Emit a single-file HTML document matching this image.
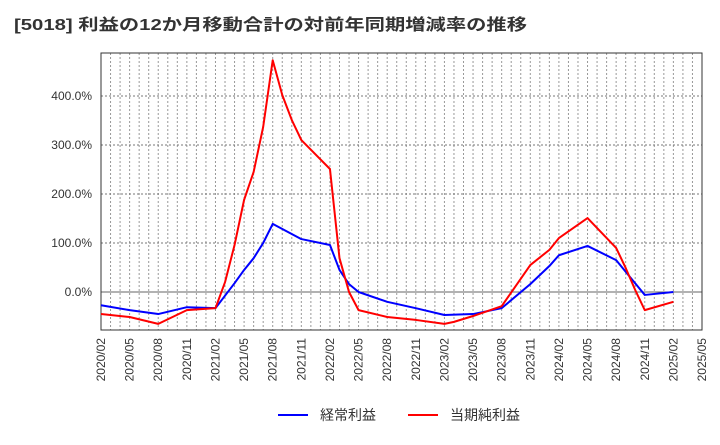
<!DOCTYPE html>
<html><head><meta charset="utf-8"><style>
body{margin:0;background:#fff;font-family:"Liberation Sans","Noto Sans CJK JP",sans-serif;}
</style></head><body>
<svg width="720" height="440" xmlns="http://www.w3.org/2000/svg" font-family="Liberation Sans, Noto Sans CJK JP, sans-serif">
<text x="14" y="30" font-size="16" font-weight="bold" fill="#333" textLength="513" lengthAdjust="spacingAndGlyphs">[5018]  利益の12か月移動合計の対前年同期増減率の推移</text>
<g id="grid"></g>
<g id="axes"></g>
<g id="series"></g>
<g>
<line x1="278" y1="415" x2="308" y2="415" stroke="#0000ff" stroke-width="2"/>
<text x="320" y="420" font-size="14" fill="#333">経常利益</text>
<line x1="408" y1="415" x2="438" y2="415" stroke="#ff0000" stroke-width="2"/>
<text x="450" y="420" font-size="14" fill="#333">当期純利益</text>
</g>
</svg>
<script>
const xLabels=["2020/02","2020/05","2020/08","2020/11","2021/02","2021/05","2021/08","2021/11","2022/02","2022/05","2022/08","2022/11","2023/02","2023/05","2023/08","2023/11","2024/02","2024/05","2024/08","2024/11","2025/02","2025/05"];
const yTicks=[0,100,200,300,400];
const blueMonths=[0,3,6,9,12,14,15,16,17,18,21,24,25,26,27,30,33,36,39,42,45,47,48,51,54,57,60];
const blueValues=[-27,-37,-45,-31,-33,18,45,69,100,139,108,96,45,16,0,-20,-33,-47,-45,-33,16,53,75,94,65,-6,0];
const redMonths=[0,3,6,9,12,13,14,15,16,17,18,19,20,21,24,25,26,27,30,33,36,37,39,42,45,47,48,51,54,55,56,57,60];
const redValues=[-45,-51,-65,-37,-33,20,96,188,245,337,473,402,351,310,251,69,0,-37,-51,-57,-65,-61,-49,-29,55,86,110,151,90,49,4,-37,-20];
const L=101,R=702,T=53,B=330;
const xs=m=>L+m*(R-L)/63;
const ys=v=>292-v*0.49;
const NS="http://www.w3.org/2000/svg";
function mk(tag,attrs,parent){const e=document.createElementNS(NS,tag);for(const k in attrs)e.setAttribute(k,attrs[k]);parent.appendChild(e);return e;}
const g=document.getElementById('grid'),ax=document.getElementById('axes'),s=document.getElementById('series');
for(let m=1;m<63;m++){const l=mk('line',{x1:xs(m),x2:xs(m),y1:T,y2:B,stroke:'#999','stroke-width':1,'stroke-dasharray':'2,2'},g);

}
yTicks.forEach(v=>{const l=mk('line',{x1:L,x2:R,y1:ys(v),y2:ys(v),stroke:v===0?'#666':'#777','stroke-width':1,'stroke-dasharray':v===0?'':'2,2'},g);


const t=mk('text',{x:92,y:ys(v)+4,'font-size':12,'text-anchor':'end',fill:'#333'},ax);t.textContent=v.toFixed(1)+'%';

});
const fr=mk('rect',{x:L,y:T,width:R-L,height:B-T,fill:'none',stroke:'#333','stroke-width':1},ax);


xLabels.forEach((lab,i)=>{const x=xs(i*3);const t=mk('text',{x:x+4,y:338,'font-size':12,'text-anchor':'end',fill:'#333',transform:`rotate(-90 ${x+4} 338)`},ax);t.textContent=lab;

});
function line(ms,vs,c,name){const p=mk('polyline',{points:ms.map((m,i)=>xs(m)+','+ys(vs[i])).join(' '),fill:'none',stroke:c,'stroke-width':2,'stroke-linejoin':'round'},s);

}
line(blueMonths,blueValues,'#0000ff','ordinary-profit-line');
line(redMonths,redValues,'#ff0000','net-profit-line');
</script>
</body></html>
